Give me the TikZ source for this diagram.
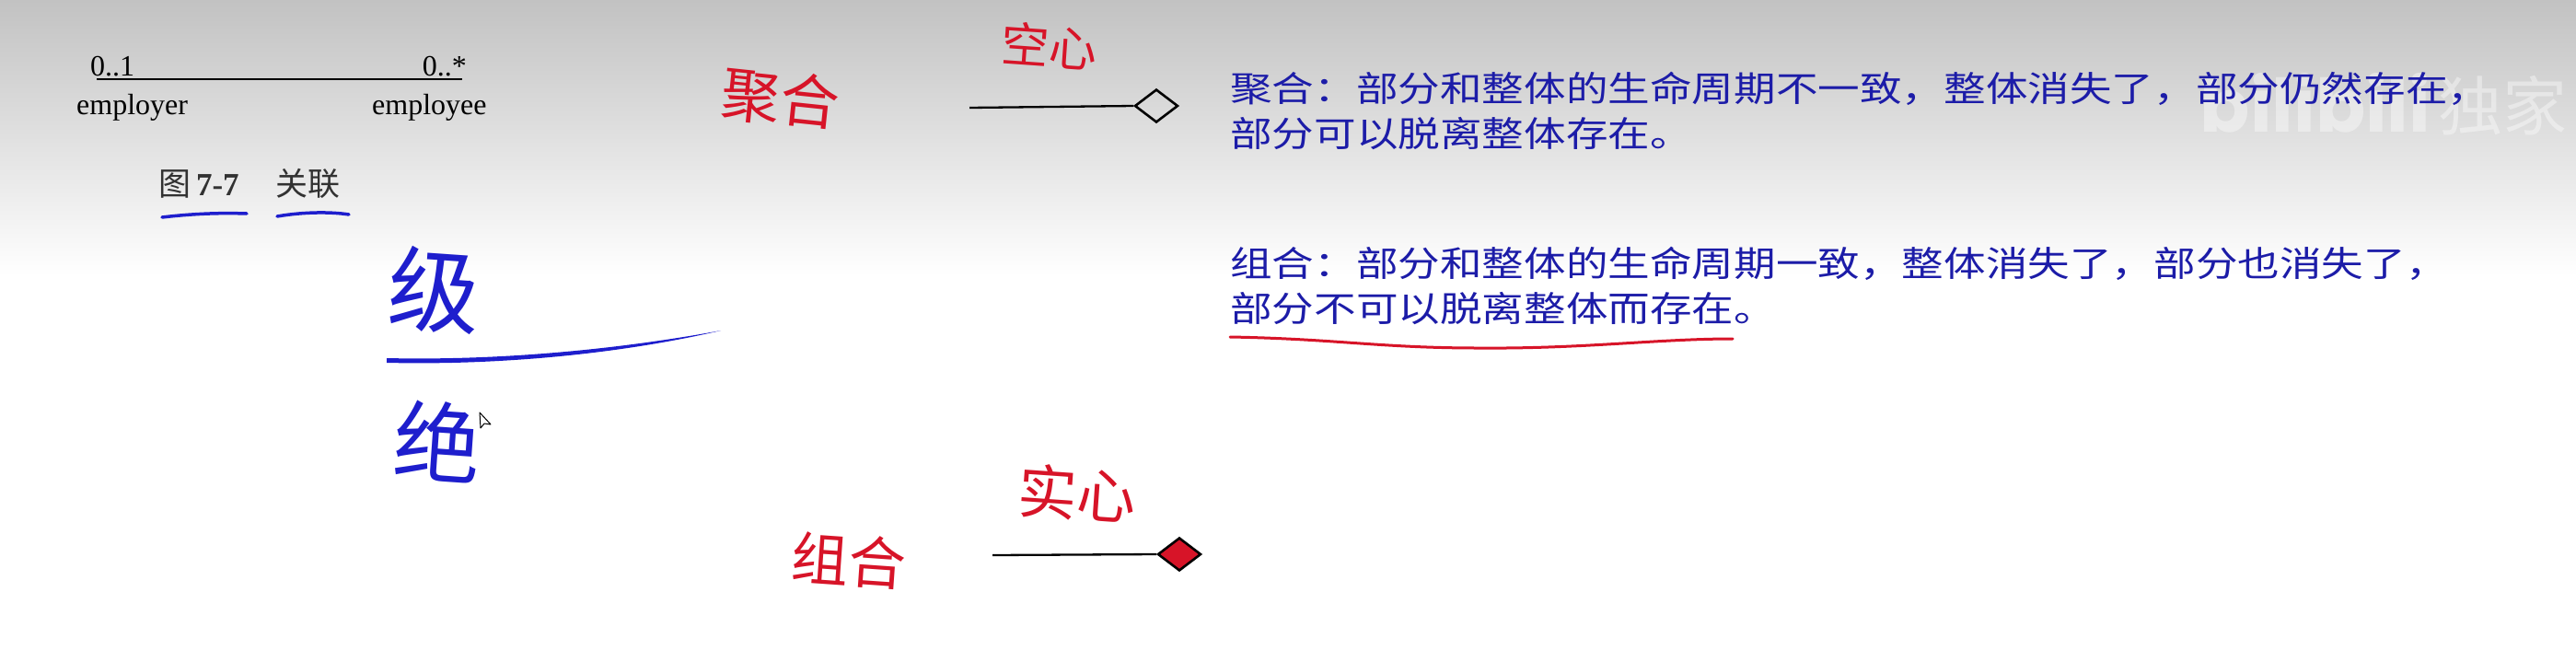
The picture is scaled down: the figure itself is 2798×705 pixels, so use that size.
\documentclass[tikz,border=0pt]{standalone}
\usepackage{fontspec}
\setmainfont{Liberation Serif}
\newfontfamily\cjk[FakeStretch=1.2]{Noto Sans CJK SC}
\newfontfamily\cjkplain{Noto Sans CJK SC}
\newfontfamily\wmfont{Poppins}
\usetikzlibrary{shapes.geometric}
\definecolor{bggray}{RGB}{194,194,194}
\definecolor{txtblue}{RGB}{28,28,168}
\definecolor{penblue}{RGB}{30,30,205}
\definecolor{penred}{RGB}{215,20,40}
\definecolor{captxt}{RGB}{50,50,50}
\tikzset{
  mult/.style={inner sep=0pt, font=\fontsize{32}{36}\selectfont, text=black},
  role/.style={inner sep=0pt, font=\fontsize{32}{36}\selectfont, text=black},
  captionlbl/.style={inner sep=0pt, font=\fontsize{35}{40}\selectfont, text=captxt},
  umlline/.style={line width=2.3pt, black},
  umldiamond/.style={diamond, draw=black, line width=2.6pt, inner sep=0pt, minimum width=47pt, minimum height=36pt},
  desc/.style={inner sep=0pt, anchor=base west, text=txtblue, font=\cjk\fontsize{38}{49}\selectfont},
  redhand/.style={inner sep=0pt, text=penred},
  bluehand/.style={inner sep=0pt, text=penblue},
  bluepen/.style={draw=penblue, line width=3.5pt, line cap=round},
  redpen/.style={draw=penred, line width=3pt, line cap=round},
  watermark/.style={inner sep=0pt, text=white, opacity=0.4},
}
\begin{document}
\begin{tikzpicture}[x=1pt,y=-1pt]
\useasboundingbox (0,0) rectangle (2798,705);
% background
\fill[white] (0,0) rectangle (2798,705);
\shade[top color=bggray, bottom color=white] (0,0) rectangle (2798,300);
% watermark
\node[watermark, font=\wmfont\bfseries\fontsize{80}{84}\selectfont] (wm1) at (2515,112) {bilibili};
\node[watermark, font=\cjkplain\fontsize{70}{74}\selectfont] (wm2) at (2718,115) {独家};
% association
\node[mult, anchor=base west] (m1) at (98,82) {0..1};
\node[mult, anchor=base east] (m2) at (507,82) {0..*};
\coordinate (asL) at (105,86);
\coordinate (asR) at (502,86);
\draw[umlline] (asL) -- (asR);
\node[role, anchor=base west] (r1) at (83,124) {employer};
\node[role, anchor=base west] (r2) at (404,124) {employee};
\node[captionlbl, anchor=base west] (cap1) at (172,212) {{\cjkplain 图}\,\textbf{7-7}};
\node[captionlbl, anchor=base west] (cap2) at (299,212) {{\cjkplain 关联}};
\draw[bluepen] (176,236) .. controls (210,232) and (240,231) .. (268,232);
\draw[bluepen] (301,235) .. controls (330,230) and (360,230) .. (379,233);
% blue handwriting
\node[bluehand, font=\cjkplain\fontsize{100}{104}\selectfont, rotate=-4] (hw1) at (472,315) {级};
\fill[penblue] (420,389) .. controls (550,392) and (680,378) .. (783,359)
   .. controls (680,383) and (550,397) .. (420,394) -- cycle;
\node[bluehand, font=\cjkplain\fontsize{95}{100}\selectfont, rotate=-4] (hw2) at (475,479) {绝};
% mouse cursor
\coordinate (cur) at (521,448);
\draw[black, fill=white, line width=1pt, line join=round] (cur) -- ++(1,17) -- ++(4,-5) -- ++(7,1) -- cycle;
% aggregation
\node[redhand, font=\cjkplain\fontsize{64}{68}\selectfont, rotate=-6] (hag) at (848,107) {聚合};
\node[redhand, font=\cjkplain\fontsize{52}{56}\selectfont, rotate=-4] (hkong) at (1140,50) {空心};
\coordinate (agL) at (1053,117);
\node[umldiamond] (agD) at (1256,115) {};
\draw[umlline] (agL) -- (agD.west);
% composition
\node[redhand, font=\cjkplain\fontsize{62}{66}\selectfont, rotate=-4] (hco) at (922,609) {组合};
\node[redhand, font=\cjkplain\fontsize{64}{68}\selectfont, rotate=-4] (hshi) at (1170,536) {实心};
\coordinate (coL) at (1078,603);
\node[umldiamond, fill=penred] (coD) at (1281,602) {};
\draw[umlline] (coL) -- (coD.west);
% descriptions
\node[desc] (d1) at (1336,110) {聚合：部分和整体的生命周期不一致，整体消失了，部分仍然存在，};
\node[desc] (d2) at (1336,159) {部分可以脱离整体存在。};
\node[desc] (d3) at (1336,300) {组合：部分和整体的生命周期一致，整体消失了，部分也消失了，};
\node[desc] (d4) at (1336,349) {部分不可以脱离整体而存在。};
\coordinate (ulA) at (1336,366);
\coordinate (ulB) at (1606,378);
\coordinate (ulC) at (1882,368);
\draw[redpen] (ulA) .. controls (1450,368) and (1500,378) .. (ulB) .. controls (1720,379) and (1800,368) .. (ulC);
\end{tikzpicture}
\end{document}
